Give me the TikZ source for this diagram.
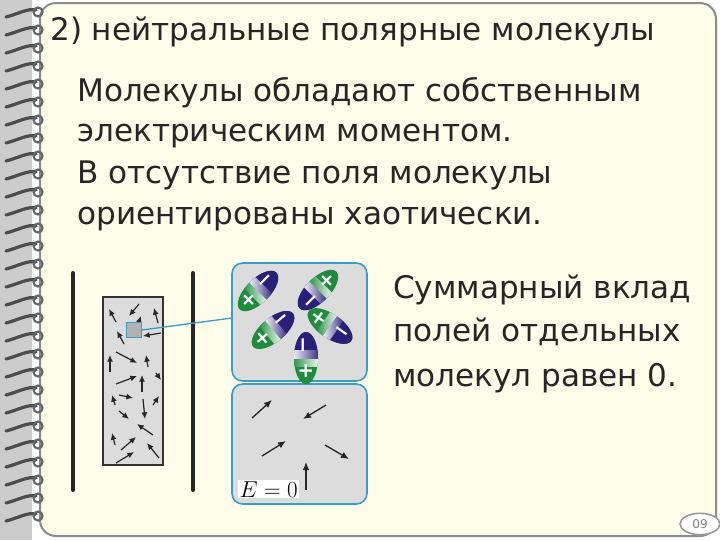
\documentclass[tikz,border=0pt]{standalone}
\usepackage{fontspec}
\setmainfont{DejaVu Sans}
\usetikzlibrary{arrows.meta,shapes.geometric}
\definecolor{page}{HTML}{FDFDEA}
\definecolor{panel}{HTML}{DCDCDC}
\definecolor{pblue}{HTML}{3A9CC8}
\definecolor{mgreen}{HTML}{1E8C3C}
\definecolor{mnavy}{HTML}{2A1F7A}
\tikzset{
 txt/.style={anchor=base west,inner sep=0pt,font=\fontsize{23.3}{27}\selectfont,text=black!85},
 arr/.style={-{Latex[length=6pt,width=5pt]},line width=1pt,black!85},
 panelbox/.style={draw=pblue,line width=1.2pt,fill=panel,rounded corners=8pt},
 sign/.style={text=white,font=\bfseries\fontsize{15}{15}\selectfont,inner sep=0pt,transform shape}
}
\newcommand{\molec}[3]{%
 \begin{scope}[shift={(#1,#2)},rotate=#3]
  \fill[mgreen] (0,0) ellipse (26 and 12);
  \begin{scope}
   \clip (0,0) ellipse (26 and 12);
   \fill[mnavy] (4,-15) rectangle (30,15);
   \shade[left color=mgreen,right color=white] (-8,-15) rectangle (0.5,15);
   \shade[left color=white,right color=mnavy] (0,-15) rectangle (8,15);
  \end{scope}
  \node[sign] at (-13,0) {+};
  \node[sign] at (13,0) {−};
 \end{scope}}
\begin{document}
\begin{tikzpicture}[x=0.75pt,y=-0.75pt]
\useasboundingbox (0,0) rectangle (720,540);
\fill[white] (0,0) rectangle (720,540);
\fill[black!20] (0,0) rectangle (32,540);
\draw[black!45,line width=1.5pt,fill=page,rounded corners=12pt] (40,3) rectangle (716,536);
\foreach \y in {12,30,...,530}{
 \draw[black!70,line width=2.4pt,line cap=round] (6,\y+5) .. controls (18,\y+2) and (28,\y-4) .. (36,\y-2);
 \draw[black!60,line width=1.6pt] (38,\y) circle (4.5);
}
\node[txt] (t0) at (50,40) {2) нейтральные полярные молекулы};
\node[txt] (t1) at (77,101) {Молекулы обладают собственным};
\node[txt] (t2) at (77,141) {электрическим моментом.};
\node[txt] (t3) at (77,183) {В отсутствие поля молекулы};
\node[txt] (t4) at (77,224) {ориентированы хаотически.};
\node[txt] (t5) at (393,298) {Суммарный вклад};
\node[txt] (t6) at (393,341) {полей отдельных};
\node[txt] (t7) at (393,386) {молекул равен 0.};
% plates
\draw[line width=3pt,black!85,line cap=round] (73,273) -- (73,490);
\draw[line width=3pt,black!85,line cap=round] (193,273) -- (193,490);
\draw[fill=panel,draw=black!80,line width=0.8pt] (103,297) rectangle (163,465);
\foreach \a/\b/\c/\d in {116/322/109/309,139/304/129/316,158/323/154/308,124/344/117/331,135/333/141/316,161/333/143/336,110/372/110/355,116/352/137/363,148/367/146/355,116/384/137/376,142/392/142/375,156/373/161/380,115/405/112/395,119/395/133/398,143/399/145/419,153/405/159/396,119/411/129/419,153/435/137/424,115/445/112/433,121/450/136/437,159/458/147/443,116/463/134/452}
 \draw[arr,line width=0.9pt,-{Latex[length=5pt,width=4.5pt]}] (\a,\b) -- (\c,\d);
\node[draw=pblue,fill=black!30,line width=1pt,minimum size=11pt,inner sep=0pt] (sq) at (134,330) {};
% panels
\draw[panelbox] (232,263) rectangle (367,381);
\draw[panelbox] (232,384) rectangle (367,504);
\coordinate (pl) at (232,318);
\draw[pblue,line width=1pt] (sq.east) -- (pl);
\molec{258}{291}{45}
\molec{318}{290}{-135}
\molec{273}{330}{40}
\molec{330}{326}{-35}
\molec{306}{358}{90}
\foreach \a/\b/\c/\d in {252/418/272/400,326/405/303/419,262/456/286/441,325/445/349/459,306/490/306/462}
 \draw[arr] (\a,\b) -- (\c,\d);
\node[anchor=base west,inner sep=1pt,fill=white,font=\fontsize{18}{18}\selectfont] (e0) at (238,497) {$E=0$};
\node[draw=black!40,line width=1.2pt,ellipse,fill=white,inner sep=1pt,minimum width=30pt,minimum height=16pt,font=\fontsize{9}{9}\selectfont,text=black!50] (pn) at (700,524) {09};
\end{tikzpicture}
\end{document}
